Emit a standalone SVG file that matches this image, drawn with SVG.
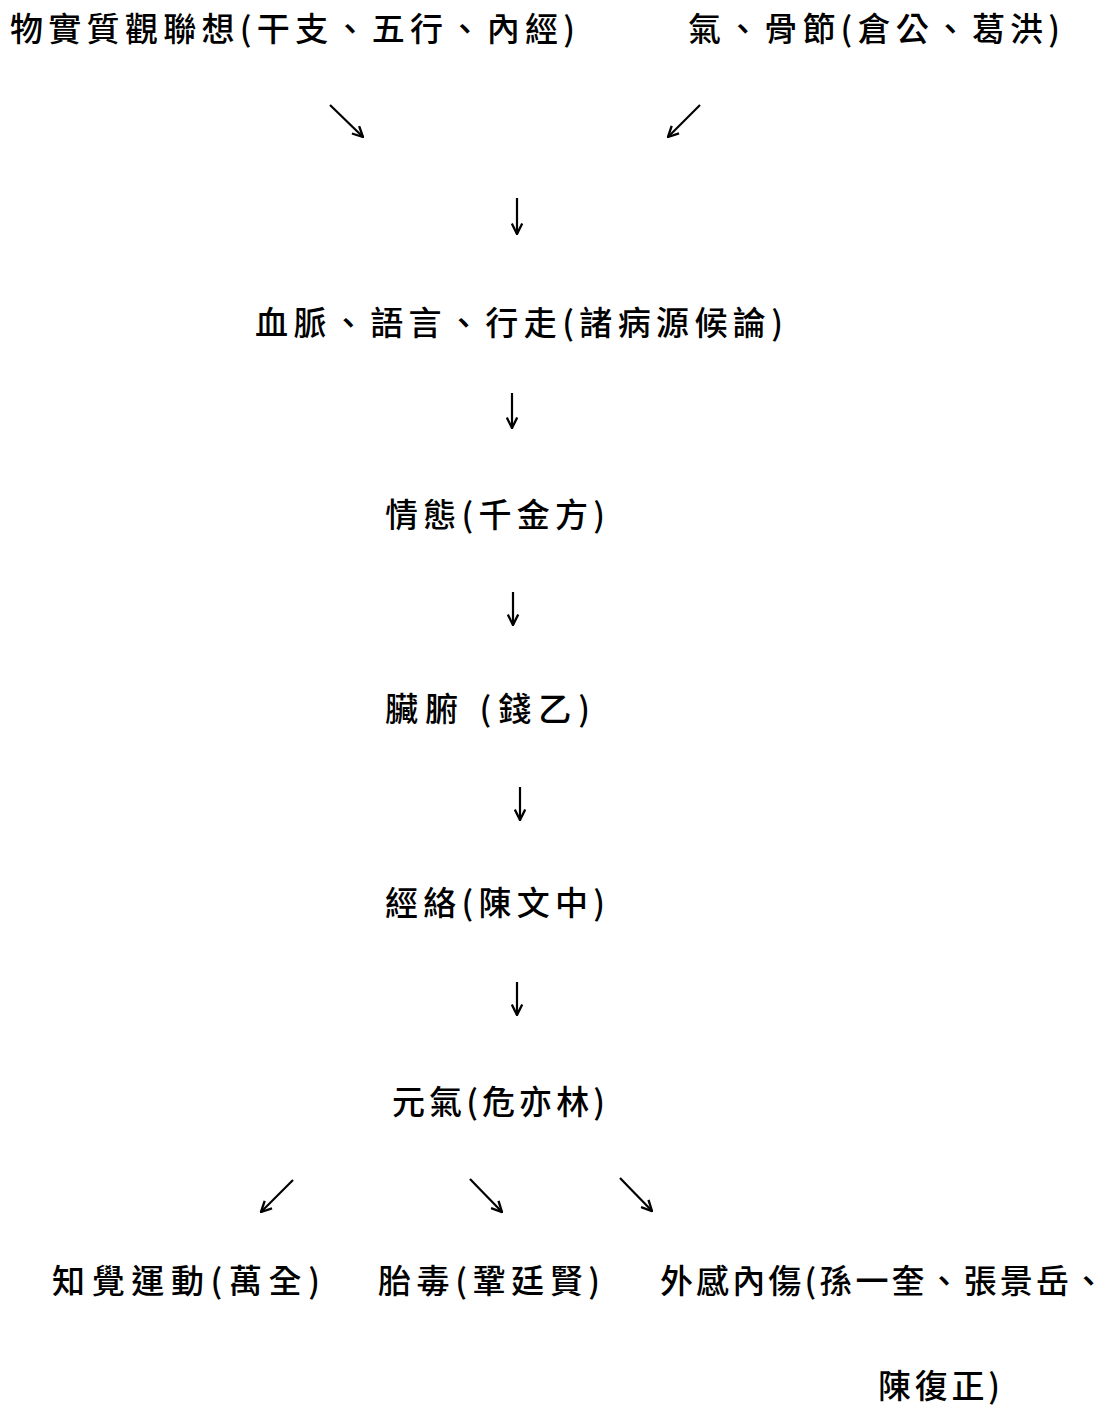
<svg xmlns="http://www.w3.org/2000/svg" width="1120" height="1408" viewBox="0 0 1120 1408">
  <style>
    .t { font-family: "Noto Sans CJK TC", "Noto Sans CJK SC", sans-serif; font-size: 33px; font-weight: 500; fill: #000; }
    .c { stroke: #000; stroke-width: 2.2; fill: none; }
  </style>
  <defs>
    <marker id="ah" viewBox="0 0 10 10" refX="9" refY="5" markerWidth="13" markerHeight="13" markerUnits="userSpaceOnUse" orient="auto">
      <path d="M1,1 L9,5 L1,9" fill="none" stroke="#000" stroke-width="1.8"/>
    </marker>
  </defs>
  <rect width="1120" height="1408" fill="#fff"/>

  <g id="n1"><text class="t" x="10" y="41" textLength="565" lengthAdjust="spacing">物實質觀聯想(干支、五行、內經)</text></g>
  <g id="n2"><text class="t" x="688" y="41" textLength="372" lengthAdjust="spacing">氣、骨節(倉公、葛洪)</text></g>
  <g id="n3"><text class="t" x="255" y="335" textLength="528" lengthAdjust="spacing">血脈、語言、行走(諸病源候論)</text></g>
  <g id="n4"><text class="t" x="385" y="527" textLength="220" lengthAdjust="spacing">情態(千金方)</text></g>
  <g id="n5"><text class="t" x="385" y="721" textLength="205" lengthAdjust="spacing">臟腑 (錢乙)</text></g>
  <g id="n6"><text class="t" x="385" y="915" textLength="220" lengthAdjust="spacing">經絡(陳文中)</text></g>
  <g id="n7"><text class="t" x="392" y="1114" textLength="213" lengthAdjust="spacing">元氣(危亦林)</text></g>
  <g id="n8"><text class="t" x="52" y="1293" textLength="268" lengthAdjust="spacing">知覺運動(萬全)</text></g>
  <g id="n9"><text class="t" x="378" y="1293" textLength="222" lengthAdjust="spacing">胎毒(鞏廷賢)</text></g>
  <g id="n10">
    <text class="t" x="660" y="1293" textLength="445" lengthAdjust="spacing">外感內傷(孫一奎、張景岳、</text>
    <text class="t" x="878" y="1398" textLength="122" lengthAdjust="spacing">陳復正)</text>
  </g>

  <g id="connectors">
    <line class="c" x1="330" y1="105" x2="363" y2="137" marker-end="url(#ah)"/>
    <line class="c" x1="700" y1="105" x2="668" y2="137" marker-end="url(#ah)"/>
    <line class="c" x1="517" y1="198" x2="517" y2="234" marker-end="url(#ah)"/>
    <line class="c" x1="512" y1="393" x2="512" y2="428" marker-end="url(#ah)"/>
    <line class="c" x1="513" y1="592" x2="513" y2="625" marker-end="url(#ah)"/>
    <line class="c" x1="520" y1="787" x2="520" y2="820" marker-end="url(#ah)"/>
    <line class="c" x1="517" y1="982" x2="517" y2="1015" marker-end="url(#ah)"/>
    <line class="c" x1="293" y1="1180" x2="261" y2="1212" marker-end="url(#ah)"/>
    <line class="c" x1="470" y1="1179" x2="502" y2="1212" marker-end="url(#ah)"/>
    <line class="c" x1="620" y1="1178" x2="652" y2="1211" marker-end="url(#ah)"/>
  </g>
</svg>
